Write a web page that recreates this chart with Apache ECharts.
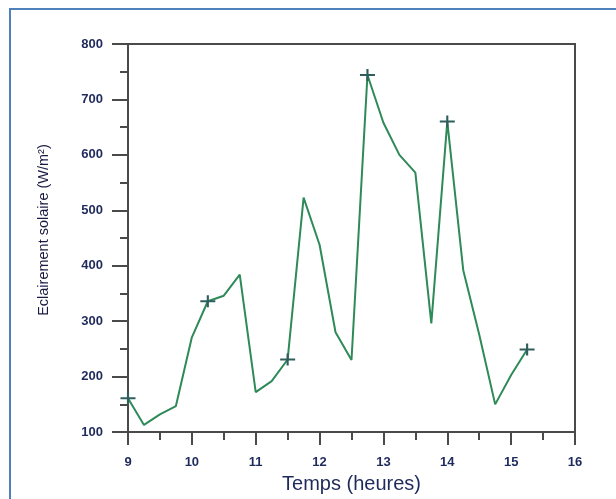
<!DOCTYPE html>
<html>
<head>
<meta charset="utf-8">
<script src="https://cdn.jsdelivr.net/npm/echarts@6/dist/echarts.min.js"></script>
<style>
html,body{margin:0;padding:0;background:#fff;}
#frame{position:absolute;left:9px;top:8px;width:620px;height:500px;border-left:2px solid #4f81bd;border-top:2px solid #4f81bd;}
#chart{position:absolute;left:0;top:0;width:616px;height:499px;}
</style>
</head>
<body>
<div id="frame"></div>
<div id="chart"></div>
<script>
// Data
const hours = [9, 9.25, 9.5, 9.75, 10, 10.25, 10.5, 10.75, 11, 11.25, 11.5, 11.75, 12, 12.25, 12.5, 12.75, 13, 13.25, 13.5, 13.75, 14, 14.25, 14.5, 14.75, 15, 15.25];
const irradiance = [161, 113, 132, 147, 271, 336, 346, 384, 172, 192, 231, 523, 438, 280, 230, 744, 658, 600, 568, 296, 660, 392, 276, 150, 203, 249];
const markerHours = [9, 10.25, 11.5, 12.75, 14, 15.25];
const xTicks = [9, 10, 11, 12, 13, 14, 15, 16];
const yTicks = [100, 200, 300, 400, 500, 600, 700, 800];
const xName = 'Temps (heures)';
const yName = 'Eclairement solaire (W/m²)';

const lineData = hours.map((h, i) => [h, irradiance[i]]);
const markerData = markerHours.map(h => [h, irradiance[hours.indexOf(h)]]);

const axisColor = '#4a4a4a';
const labelColor = '#1f2a5c';
const chart = echarts.init(document.getElementById('chart'), null, {renderer: 'canvas'});
chart.setOption({
  animation: false,
  backgroundColor: 'transparent',
  grid: {left: 128, right: 41, top: 44, bottom: 66, show: true, borderColor: axisColor, borderWidth: 2},
  xAxis: {
    type: 'value', min: xTicks[0], max: xTicks[xTicks.length - 1], interval: 1,
    name: xName, nameLocation: 'middle', nameGap: 36,
    nameTextStyle: {color: labelColor, fontSize: 20, fontFamily: 'Liberation Sans'},
    axisLine: {show: true, lineStyle: {color: axisColor, width: 2}},
    axisTick: {show: true, inside: false, length: 13, lineStyle: {color: axisColor, width: 2}},
    minorTick: {show: true, splitNumber: 2, length: 8, lineStyle: {color: axisColor, width: 2}},
    splitLine: {show: false},
    axisLabel: {color: labelColor, fontSize: 13, fontWeight: 'bold', fontFamily: 'Liberation Sans', margin: 24}
  },
  yAxis: {
    type: 'value', min: yTicks[0], max: yTicks[yTicks.length - 1], interval: 100,
    name: yName, nameLocation: 'middle', nameGap: 77, nameRotate: 90,
    nameTextStyle: {color: '#1a1a40', fontSize: 14.5, fontFamily: 'Liberation Sans', padding: [0, 0, 0, 16]},
    axisLine: {show: true, lineStyle: {color: axisColor, width: 2}},
    axisTick: {show: true, inside: false, length: 16, lineStyle: {color: axisColor, width: 2}},
    minorTick: {show: true, splitNumber: 2, length: 8, lineStyle: {color: axisColor, width: 2}},
    splitLine: {show: false},
    axisLabel: {color: labelColor, fontSize: 13, fontWeight: 'bold', fontFamily: 'Liberation Sans', margin: 25}
  },
  series: [
    {
      type: 'line', data: lineData, showSymbol: false, symbol: 'none',
      lineStyle: {color: '#2e8a58', width: 2}, z: 2
    },
    {
      type: 'scatter', data: markerData,
      symbol: 'path://M6,0H8V5H14V7H8V12H6V7H0V5H6Z', symbolSize: [15, 12],
      itemStyle: {color: '#2f5f5c', opacity: 1}, z: 3
    }
  ]
});
</script>
</body>
</html>
